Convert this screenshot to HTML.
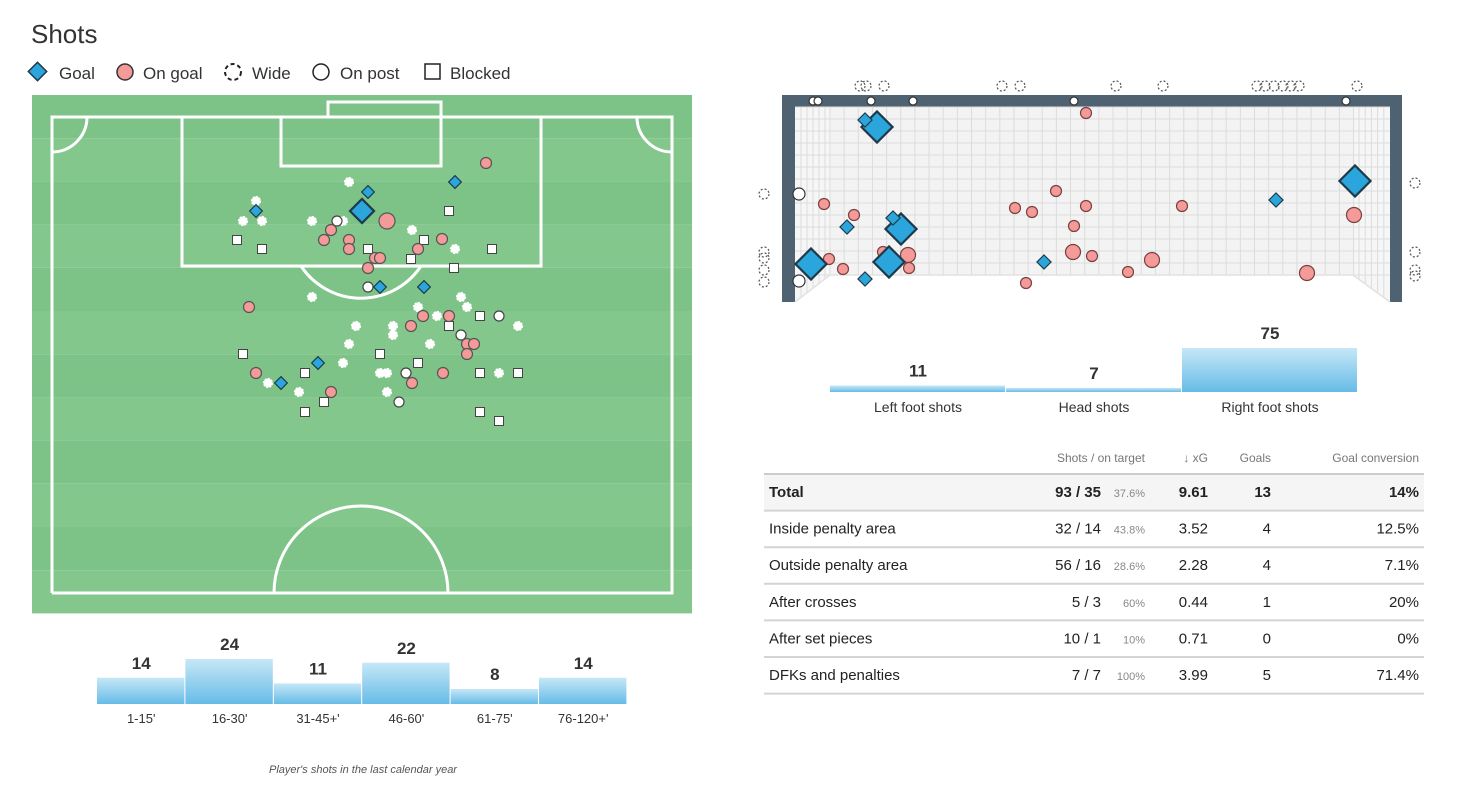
<!DOCTYPE html>
<html><head><meta charset="utf-8">
<style>
body{margin:0;background:#fff;font-family:"Liberation Sans",sans-serif;}
#root{position:relative;width:1460px;height:793px;overflow:hidden;}
svg{position:absolute;left:0;top:0;}
text{font-family:"Liberation Sans",sans-serif;}
</style></head>
<body>
<div id="root">
<svg id="s" width="1460" height="793" viewBox="0 0 1460 793">
<defs>
<linearGradient id="bg" x1="0" y1="0" x2="0" y2="1"><stop offset="0" stop-color="#c6e7f7"/><stop offset="1" stop-color="#66bce7"/></linearGradient>
</defs>
<text x="31" y="43" font-size="26" fill="#333">Shots</text>
<g>
<g><rect x="31" y="65" width="13" height="13" transform="rotate(45 37.5 71.5)" fill="#2aa6dc" stroke="#1e3a4a" stroke-width="1.5"/><text x="59" y="79" font-size="17" fill="#333">Goal</text></g>
<g><circle cx="125" cy="72" r="8" fill="#f49a99" stroke="#333" stroke-width="1.5"/><text x="143" y="79" font-size="17" fill="#333">On goal</text></g>
<g><circle cx="233" cy="72" r="8" fill="none" stroke="#222" stroke-width="2" stroke-dasharray="4 3"/><text x="252" y="79" font-size="17" fill="#333">Wide</text></g>
<g><circle cx="321" cy="72" r="8" fill="#fff" stroke="#222" stroke-width="1.5"/><text x="340" y="79" font-size="17" fill="#333">On post</text></g>
<g><rect x="425" y="64" width="15" height="15" fill="#fff" stroke="#222" stroke-width="1.5"/><text x="450" y="79" font-size="17" fill="#333">Blocked</text></g>
</g>
<g id="pitch"></g>
<g id="goalv"></g>
<g id="foot"></g>
<g id="time"></g>
<text x="363" y="773" font-size="11" font-style="italic" fill="#555" text-anchor="middle">Player's shots in the last calendar year</text>
<g id="tbl"></g>
</svg>
</div>
<script>
// ---- pitch shot data (units: pitch coords, 0..62 across, 0..47.6 down from goal line)
const pGoalX=[40.3,31.6,31,20.4,32.8,37.2,26.6,22.9];
const pGoalY=[6.5,7.5,9.4,9.4,17,17,24.6,26.6];
const pGoalBig=[0,0,1,0,0,0,0,0];
const pOnX=[43.4,33.5,27.9,27.2,29.7,29.7,32.3,32.8,31.6,36.6,39,19.7,37.1,39.7,35.9,41.5,42.2,41.5,20.4,27.9,36,39.1];
const pOnY=[4.6,10.4,11.3,12.3,12.3,13.2,14.1,14.1,15.1,13.2,12.2,19,19.9,19.9,20.9,22.7,22.7,23.7,25.6,27.5,26.6,25.6];
const pOnBig=[0,1,0,0,0,0,0,0,0,0,0,0,0,0,0,0,0,0,0,0,0,0];
const pBlkX=[39.7,18.5,21,31.6,37.2,35.9,44,40.2,42.8,39.7,32.8,36.6,19.1,25.3,42.8,46.6,27.2,25.3,42.8,44.7];
const pBlkY=[9.4,12.3,13.2,13.2,12.3,14.2,13.2,15.1,19.9,20.9,23.7,24.6,23.7,25.6,25.6,25.6,28.5,29.5,29.5,30.4];
const pPostX=[28.5,31.6,44.7,40.9,35.4,34.7];
const pPostY=[10.4,17,19.9,21.8,25.6,28.5];
const pWideX=[29.7,20.4,19.1,21,26,29.1,36,40.3,26,40.9,41.5,36.6,38.5,30.4,34.1,46.6,34.1,29.7,37.8,29.1,32.8,33.5,44.7,21.6,24.7,33.5];
const pWideY=[6.5,8.4,10.4,10.4,10.4,10.4,11.3,13.2,18,18,19,19,19.9,20.9,20.9,20.9,21.8,22.7,22.7,24.6,25.6,25.6,25.6,26.6,27.5,27.5];
// ---- goal-mouth data (units from top-left inside post)
const gGoalX=[8.2,7,10.6,9.8,5.2,1.6,9.4,7,24.9,48.1,56];
const gGoalY=[2.1,1.4,12.3,11.2,12.1,15.8,15.6,17.3,15.6,9.4,7.5];
const gGoalBig=[1,0,1,0,0,1,1,0,0,0,1];
const gOnX=[29.1,2.9,5.9,26.1,22,23.7,29.1,27.9,38.7,27.8,29.7,35.7,33.3,23.1,51.2,55.9,4.8,3.4,8.8,11.3,11.4];
const gOnY=[0.7,9.8,10.9,8.5,10.2,10.6,10,12,10,14.6,15,15.4,16.6,17.7,16.7,10.9,16.3,15.3,14.6,14.9,16.2];
const gOnBig=[0,0,0,0,0,0,0,0,0,1,0,1,0,0,1,1,0,0,0,1,0];
const gPostX=[1.8,2.3,7.6,11.8,27.9,55.1,0.4,0.4];
const gPostY=[-0.5,-0.5,-0.5,-0.5,-0.5,-0.5,8.8,17.5];
const gWideX=[6.5,7.1,8.9,20.7,22.5,32.1,36.8,46.2,47,47.9,48.8,49.6,50.4,56.2,-3.1,-3.1,-3.1,-3.1,-3.1,62,62,62,62];
const gWideY=[-2,-2,-2,-2,-2,-2,-2,-2,-2,-2,-2,-2,-2,-2,8.8,14.6,15.2,16.4,17.6,7.7,14.6,16.4,17];
// ---- bars
const footCats=["Left foot shots","Head shots","Right foot shots"];
const footVals=[11,7,75];
const timeCats=["1-15'","16-30'","31-45+'","46-60'","61-75'","76-120+'"];
const timeVals=[14,24,11,22,8,14];
// ---- table
const tblHead=["Shots / on target","↓ xG","Goals","Goal conversion"];
const tblRows=["Total","Inside penalty area","Outside penalty area","After crosses","After set pieces","DFKs and penalties"];
const tblShots=["93 / 35","32 / 14","56 / 16","5 / 3","10 / 1","7 / 7"];
const tblPct=["37.6%","43.8%","28.6%","60%","10%","100%"];
const tblXG=["9.61","3.52","2.28","0.44","0.71","3.99"];
const tblGoals=["13","4","4","1","0","5"];
const tblConv=["14%","12.5%","7.1%","20%","0%","71.4%"];

const NS="http://www.w3.org/2000/svg";
function mk(parent,tag,attrs){const e=document.createElementNS(NS,tag);for(const k in attrs)e.setAttribute(k,attrs[k]);parent.appendChild(e);return e;}
const px=v=>52+v*10, py=v=>117+v*10;
const gx=v=>795+v*10, gy=v=>106+v*10;

// pitch
const P=document.getElementById('pitch');
for(let i=0;i<12;i++){mk(P,'rect',{x:32,y:95+i*43.2,width:660,height:43.2,fill:i%2?'#84c78d':'#7dc388'});}
const L={fill:'none',stroke:'#fff','stroke-width':3};
mk(P,'path',Object.assign({d:'M52,593 L52,117 L672,117 L672,593 L52,593'},L));
mk(P,'rect',Object.assign({x:182,y:117,width:359,height:149},L));
mk(P,'rect',Object.assign({x:281,y:117,width:160,height:49},L));
mk(P,'rect',Object.assign({x:328,y:102,width:113,height:15},L));
mk(P,'path',Object.assign({d:'M301,266 A72,72 0 0 0 421,266'},L));
mk(P,'path',Object.assign({d:'M52,152 A35,35 0 0 0 87,117'},L));
mk(P,'path',Object.assign({d:'M637,117 A35,35 0 0 0 672,152'},L));
mk(P,'path',Object.assign({d:'M274,593 A87,87 0 0 1 448,593'},L));
function diamond(g,x,y,s,name){const e=mk(g,'rect',{x:x-s/2,y:y-s/2,width:s,height:s,transform:`rotate(45 ${x} ${y})`,fill:'#2aa6dc',stroke:'#1e3a4a','stroke-width':s>12?2.2:1.2});

}
function circ(g,x,y,r,fill,stroke,dash,name){const a={cx:x,cy:y,r:r,fill:fill,stroke:stroke,'stroke-width':1.2};if(dash)a['stroke-dasharray']=dash;const e=mk(g,'circle',a);

}
pWideX.forEach((v,i)=>circ(P,px(v),py(pWideY[i]),4.5,'#fff','#fff','2 1.5','pitch-wide-shot'));
pBlkX.forEach((v,i)=>{const e=mk(P,'rect',{x:px(v)-4.5,y:py(pBlkY[i])-4.5,width:9,height:9,fill:'#fff',stroke:'#444','stroke-width':1});

});
pPostX.forEach((v,i)=>circ(P,px(v),py(pPostY[i]),5,'#fff','#444',null,'pitch-post-shot'));
pOnX.forEach((v,i)=>circ(P,px(v),py(pOnY[i]),pOnBig[i]?8:5.5,'#f49a99','#555',null,'pitch-on-goal-shot'));
pGoalX.forEach((v,i)=>diamond(P,px(v),py(pGoalY[i]),pGoalBig[i]?17:9,'pitch-goal-shot'));

// goal view
const G=document.getElementById('goalv');
mk(G,'rect',{x:782,y:95,width:620,height:207,fill:'#4f6272'});
mk(G,'rect',{x:795,y:107,width:595,height:195,fill:'#fff'});
mk(G,'rect',{x:830,y:107,width:523,height:168,fill:'#f3f3f3'});
mk(G,'path',{d:'M795,107 L830,107 L830,275 L795,302 Z',fill:'#f6f6f6'});
mk(G,'path',{d:'M1353,107 L1390,107 L1390,302 L1353,275 Z',fill:'#f6f6f6'});
for(let x=830;x<=1354;x+=14.15)mk(G,'line',{x1:x,y1:107,x2:x,y2:275,stroke:'#dcdcdc','stroke-width':1});
for(let y=107;y<=275;y+=12)mk(G,'line',{x1:795,y1:y,x2:1390,y2:y,stroke:'#dcdcdc','stroke-width':1});
for(let i=1;i<6;i++){mk(G,'line',{x1:795+i*6,y1:107,x2:795+i*6,y2:302-i*4.5,stroke:'#dcdcdc'});mk(G,'line',{x1:1390-i*6.2,y1:107,x2:1390-i*6.2,y2:302-i*4.5,stroke:'#dcdcdc'});}
mk(G,'path',{d:'M795,302 L830,275 L1353,275 L1390,302',fill:'none',stroke:'#e2e2e2','stroke-width':1.5});
gWideX.forEach((v,i)=>circ(G,gx(v),gy(gWideY[i]),5,'none','#555','2 2','goal-wide-shot'));
gPostX.forEach((v,i)=>circ(G,gx(v),gy(gPostY[i]),gPostY[i]<0?4:6,'#fff','#333',null,'goal-post-shot'));
gOnX.forEach((v,i)=>circ(G,gx(v),gy(gOnY[i]),gOnBig[i]?7.5:5.5,'#f49a99','#7a4040',null,'goal-on-goal-shot'));
gGoalX.forEach((v,i)=>diamond(G,gx(v),gy(gGoalY[i]),gGoalBig[i]?22:10,'goal-goal-shot'));

// bars
function bars(gid,cats,vals,x0,w,base,k,valFs,labY,catFs){
 const g=document.getElementById(gid);
 cats.forEach((c,i)=>{const h=vals[i]*k;const x=x0+i*w;
  const r=mk(g,'rect',{x:x,y:base-h,width:w-1,height:h,fill:'url(#bg)'});
  
  
  const t=mk(g,'text',{x:x+w/2,y:base-h-9,'text-anchor':'middle','font-size':valFs,'font-weight':'bold',fill:'#333'});t.textContent=vals[i];
  
  
  const l=mk(g,'text',{x:x+w/2,y:labY,'text-anchor':'middle','font-size':catFs,fill:'#333'});l.textContent=c;
  
  });
}
bars('foot',footCats,footVals,830,176,392,0.587,17,412,14);
bars('time',timeCats,timeVals,97,88.4,704,1.875,17,723,13);

// table
const T=document.getElementById('tbl');
const hx=[1145,1208,1271,1419];
tblHead.forEach((h,i)=>{const t=mk(T,'text',{x:hx[i],y:462,'text-anchor':'end','font-size':12,fill:'#777'});t.textContent=h;

});
mk(T,'rect',{x:764,y:475,width:660,height:35,fill:'#f5f5f5'});
mk(T,'line',{x1:764,y1:474,x2:1424,y2:474,stroke:'#ccc','stroke-width':2});
tblRows.forEach((r,i)=>{const y=497+i*36.6;const b=i==0?'bold':'normal';
 const add=(x,txt,anc,fs,fill,wt)=>{const t=mk(T,'text',{x:x,y:y,'text-anchor':anc,'font-size':fs,fill:fill,'font-weight':wt});t.textContent=txt;return t;};
 const a=add(769,r,'start',15,'#222',b);
 add(1101,tblShots[i],'end',15,'#222',b);
 add(1145,tblPct[i],'end',11,'#888','normal');
 add(1208,tblXG[i],'end',15,'#222',b);
 add(1271,tblGoals[i],'end',15,'#222',b);
 add(1419,tblConv[i],'end',15,'#222',b);
 mk(T,'line',{x1:764,y1:474+(i+1)*36.6,x2:1424,y2:474+(i+1)*36.6,stroke:'#d4d4d4','stroke-width':2});
});
</script>
</body></html>
